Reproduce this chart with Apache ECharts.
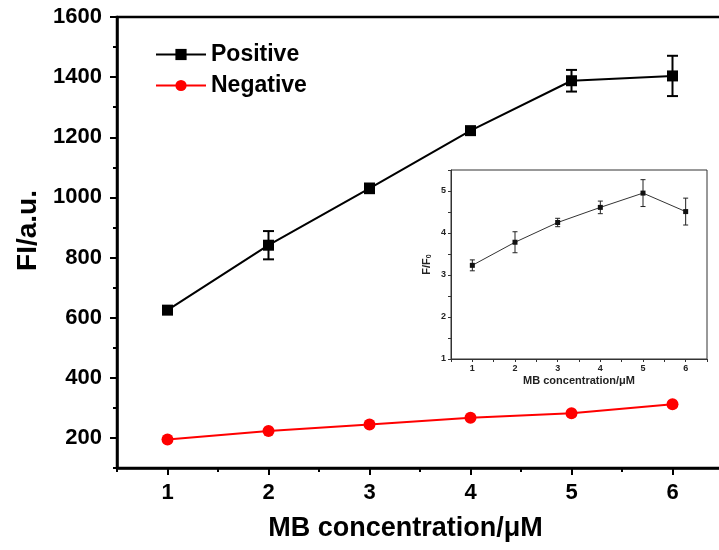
<!DOCTYPE html>
<html>
<head>
<meta charset="utf-8">
<script src="https://cdn.jsdelivr.net/npm/echarts@6/dist/echarts.min.js"></script>
<style>
  html, body { margin: 0; padding: 0; background: #fff; }
  #main { width: 719px; height: 550px; }
</style>
</head>
<body>
<div id="main"></div>
<script>
// MB concentration (uM)
var conc = [1, 2, 3, 4, 5, 6];
// main plot, FI/a.u.
var positive = [625, 841, 1030, 1222, 1388, 1404];
var positiveErr = [8, 47, 16, 10, 36, 67];
var negative = [195, 223, 245, 267, 282, 312];
// inset, F/F0
var ratio = [3.23, 3.78, 4.25, 4.61, 4.95, 4.51];
var ratioErr = [0.13, 0.25, 0.10, 0.15, 0.32, 0.32];

var mainYLabels = [200, 400, 600, 800, 1000, 1200, 1400, 1600];
var mainXLabels = [1, 2, 3, 4, 5, 6];

var FONT = 'Liberation Sans, Arial, sans-serif';

function pairs(xs, ys) {
  return xs.map(function (x, i) { return [x, ys[i]]; });
}
function errData(xs, ys, es) {
  return xs.map(function (x, i) { return [x, ys[i] - es[i], ys[i] + es[i]]; });
}
function errRender(cap, lw, color) {
  return function (params, api) {
    var x = api.value(0);
    var lo = api.coord([x, api.value(1)]);
    var hi = api.coord([x, api.value(2)]);
    var st = { stroke: color, lineWidth: lw };
    return {
      type: 'group',
      children: [
        { type: 'line', shape: { x1: hi[0], y1: hi[1], x2: lo[0], y2: lo[1] }, style: st },
        { type: 'line', shape: { x1: hi[0] - cap, y1: hi[1], x2: hi[0] + cap, y2: hi[1] }, style: st },
        { type: 'line', shape: { x1: lo[0] - cap, y1: lo[1], x2: lo[0] + cap, y2: lo[1] }, style: st }
      ]
    };
  };
}

var chart = echarts.init(document.getElementById('main'), null, { renderer: 'canvas' });

var option = {
  backgroundColor: '#fff',
  animation: false,
  textStyle: { fontFamily: FONT },
  legend: {
    orient: 'vertical',
    left: 150,
    top: 38,
    itemWidth: 50,
    itemHeight: 14,
    itemGap: 8,
    data: ['Positive', 'Negative'],
    textStyle: { fontFamily: FONT, fontSize: 23, fontWeight: 'bold', color: '#000' }
  },
  grid: [
    { left: 117, top: 17, width: 606, height: 451, outerBoundsMode: 'none', show: true, borderColor: '#000', borderWidth: 2.5, backgroundColor: 'transparent' },
    { left: 451, top: 170, width: 256, height: 189, outerBoundsMode: 'none', show: true, borderColor: '#333', borderWidth: 1, backgroundColor: '#fff', z: 5 }
  ],
  xAxis: [
    {
      gridIndex: 0, type: 'value', min: 0.5, max: 6.5, interval: 0.5,
      name: 'MB concentration/μM', nameLocation: 'middle', nameGap: 47,
      nameTextStyle: { fontFamily: FONT, fontSize: 27, fontWeight: 'bold', color: '#000', padding: [0, 29, 0, 0] },
      axisLine: { lineStyle: { color: '#000', width: 2.5 } },
      axisTick: { inside: false, length: 4, lineStyle: { color: '#000', width: 2 } },
      axisLabel: {
        margin: 14, fontSize: 22, fontWeight: 'bold', color: '#000', fontFamily: FONT,
        formatter: function (v) { return mainXLabels.indexOf(v) >= 0 ? String(v) : ''; }
      },
      splitLine: { show: false }
    },
    {
      gridIndex: 0, type: 'value', position: 'bottom', min: 0.5, max: 6.5, interval: 0.5,
      axisLine: { show: false },
      axisTick: { length: 7, customValues: mainXLabels, lineStyle: { color: '#000', width: 2 } },
      axisLabel: { show: false },
      splitLine: { show: false }
    },
    {
      gridIndex: 1, type: 'value', min: 0.5, max: 6.5, interval: 0.5,
      name: 'MB concentration/μM', nameLocation: 'middle', nameGap: 16,
      nameTextStyle: { fontFamily: FONT, fontSize: 11, fontWeight: 'bold', color: '#222' },
      axisLine: { lineStyle: { color: '#333', width: 1 } },
      axisTick: { length: 3, lineStyle: { color: '#333', width: 1 } },
      axisLabel: {
        margin: 5, fontSize: 9, fontWeight: 'bold', color: '#222', fontFamily: FONT,
        formatter: function (v) { return v % 1 === 0 ? String(v) : ''; }
      },
      splitLine: { show: false },
      z: 6
    }
  ],
  yAxis: [
    {
      gridIndex: 0, type: 'value', min: 100, max: 1600, interval: 100,
      name: 'FI/a.u.', nameLocation: 'middle', nameGap: 75,
      nameTextStyle: { fontFamily: FONT, fontSize: 28, fontWeight: 'bold', color: '#000', padding: [0, 0, 0, 24] },
      axisLine: { lineStyle: { color: '#000', width: 2.5 } },
      axisTick: { length: 4, lineStyle: { color: '#000', width: 2 } },
      axisLabel: {
        margin: 15, fontSize: 22, fontWeight: 'bold', color: '#000', fontFamily: FONT,
        formatter: function (v) { return mainYLabels.indexOf(v) >= 0 ? String(v) : ''; }
      },
      splitLine: { show: false }
    },
    {
      gridIndex: 0, type: 'value', position: 'left', min: 100, max: 1600, interval: 100,
      axisLine: { show: false },
      axisTick: { length: 7, customValues: mainYLabels, lineStyle: { color: '#000', width: 2 } },
      axisLabel: { show: false },
      splitLine: { show: false }
    },
    {
      gridIndex: 1, type: 'value', min: 1, max: 5.5, interval: 0.5,
      name: 'F/F{sub|0}', nameLocation: 'middle', nameGap: 18,
      nameTextStyle: {
        fontFamily: FONT, fontSize: 11, fontWeight: 'bold', color: '#222',
        rich: { sub: { fontSize: 7, fontWeight: 'bold', verticalAlign: 'bottom', padding: [5, 0, 0, 0] } }
      },
      axisLine: { lineStyle: { color: '#333', width: 1 } },
      axisTick: { length: 3, lineStyle: { color: '#333', width: 1 } },
      axisLabel: {
        margin: 5, fontSize: 9, fontWeight: 'bold', color: '#222', fontFamily: FONT,
        formatter: function (v) { return v % 1 === 0 ? String(v) : ''; }
      },
      splitLine: { show: false },
      z: 6
    }
  ],
  series: [
    {
      name: 'Positive', type: 'line', xAxisIndex: 0, yAxisIndex: 0,
      data: pairs(conc, positive),
      symbol: 'rect', symbolSize: 11,
      itemStyle: { color: '#000' },
      lineStyle: { color: '#000', width: 2 },
      z: 3
    },
    {
      name: 'Positive err', type: 'custom', xAxisIndex: 0, yAxisIndex: 0,
      data: errData(conc, positive, positiveErr),
      encode: { x: 0, y: [1, 2] },
      renderItem: errRender(5.5, 2, '#000'),
      z: 2
    },
    {
      name: 'Negative', type: 'line', xAxisIndex: 0, yAxisIndex: 0,
      data: pairs(conc, negative),
      symbol: 'circle', symbolSize: 12,
      itemStyle: { color: '#ff0000' },
      lineStyle: { color: '#ff0000', width: 2 },
      z: 3
    },
    {
      name: 'Ratio', type: 'line', xAxisIndex: 2, yAxisIndex: 2,
      data: pairs(conc, ratio),
      symbol: 'rect', symbolSize: 5,
      itemStyle: { color: '#111' },
      lineStyle: { color: '#333', width: 1 },
      z: 8
    },
    {
      name: 'Ratio err', type: 'custom', xAxisIndex: 2, yAxisIndex: 2,
      data: errData(conc, ratio, ratioErr),
      encode: { x: 0, y: [1, 2] },
      renderItem: errRender(2.5, 1, '#222'),
      z: 7
    }
  ]
};

chart.setOption(option);
</script>
</body>
</html>
